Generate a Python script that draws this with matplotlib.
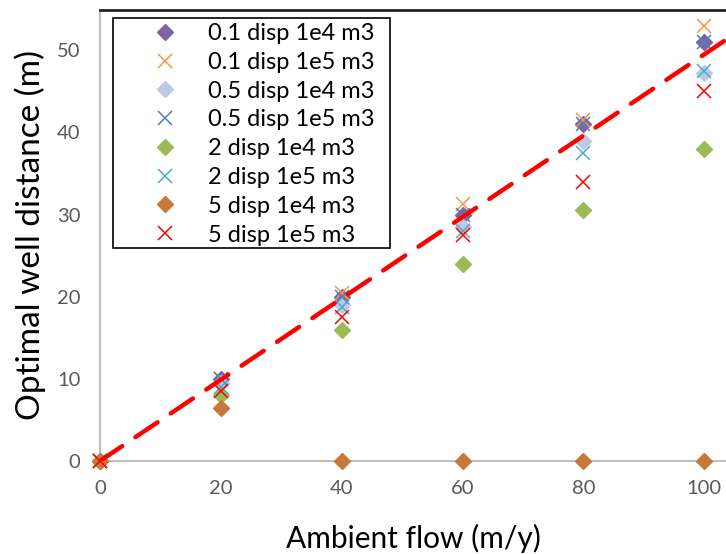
import matplotlib
matplotlib.use("Agg")
import matplotlib.pyplot as plt
from matplotlib.patches import Rectangle

plt.rcParams['font.family'] = ['Lato', 'DejaVu Sans']

# ambient flow (m/y)
flow = [0, 20, 40, 60, 80, 100]

# optimal well distance (m) per dispersivity / volume case
labels = ["0.1 disp 1e4 m3", "0.1 disp 1e5 m3", "0.5 disp 1e4 m3", "0.5 disp 1e5 m3",
          "2 disp 1e4 m3", "2 disp 1e5 m3", "5 disp 1e4 m3", "5 disp 1e5 m3"]
d01_1e4 = [0, 10, 20, 30, 41, 51]
d01_1e5 = [0, 10, 20.5, 31.3, 41.5, 53]
d05_1e4 = [0, 9.5, 19, 28.5, 39, 47.2]
d05_1e5 = [0, 10, 20, 30, 41, 51]
d2_1e4 = [0, 8, 16, 24, 30.5, 38]
d2_1e5 = [0, 9, 18.8, 28, 37.5, 47.5]
d5_1e4 = [0, 6.5, 0, 0, 0, 0]
d5_1e5 = [0, 8.5, 17.5, 27.5, 34, 45]
series = [d01_1e4, d01_1e5, d05_1e4, d05_1e5, d2_1e4, d2_1e5, d5_1e4, d5_1e5]

markers = ['D', 'x', 'D', 'x', 'D', 'x', 'D', 'x']
colors = ['#8064A2', '#F79646', '#B9C9E6', '#4F81BD',
          '#9BBB59', '#4BACC6', '#C6793A', '#FF0000']

# reference line: distance = slope * flow
slope = 0.495
line_x = [0, 110]

W, H = 726, 554
fig = plt.figure(figsize=(W / 100, H / 100), dpi=100)
ax = fig.add_axes([100 / W, 93 / H, 626 / W, 451 / H])

for ys, lab, m, c in zip(series, labels, markers, colors):
    if m == 'D':
        ax.plot(flow, ys, linestyle='none', marker='D', markersize=8.5,
                color=c, label=lab, clip_on=False, zorder=3)
    else:
        ax.plot(flow, ys, linestyle='none', marker='x', markersize=10,
                markeredgewidth=1.1, color=c, label=lab, clip_on=False, zorder=3)

ax.plot(line_x, [slope * v for v in line_x], color='#FF0000', linewidth=3.2,
        linestyle=(0, (6, 3.6)), dash_capstyle='round', zorder=4)

ax.set_xlim(0, 103.6)
ax.set_ylim(0, 54.9)
ax.set_xticks(flow)
ax.set_yticks([0, 10, 20, 30, 40, 50])
ax.tick_params(length=0, labelsize=14.5, labelcolor='#595959')
ax.tick_params(axis='x', pad=14)
ax.tick_params(axis='y', pad=14)

for s in ['left', 'bottom']:
    ax.spines[s].set_color('#BFBFBF')
    ax.spines[s].set_linewidth(1.5)
ax.spines['top'].set_color('#222222')
ax.spines['top'].set_linewidth(2)
ax.spines['right'].set_visible(False)

ax.set_xlabel("Ambient flow (m/y)", fontsize=21.5, labelpad=19)
ax.set_ylabel("Optimal well distance (m)", fontsize=24, labelpad=8)

# legend entries without their own frame; box drawn separately
leg = fig.legend(loc='upper left', bbox_to_anchor=(141 / W, 1 - 23 / H),
                 borderaxespad=0, borderpad=0, fontsize=17, frameon=False,
                 handlelength=2.0, handletextpad=0.85, labelspacing=0.33)
fig.add_artist(Rectangle((113 / W, 1 - 248 / H), 277 / W, 230 / H,
                         transform=fig.transFigure, fill=True, facecolor='white',
                         edgecolor='black', linewidth=1.2, zorder=5))
leg.set_zorder(6)

fig.savefig("out.png", dpi=100)
